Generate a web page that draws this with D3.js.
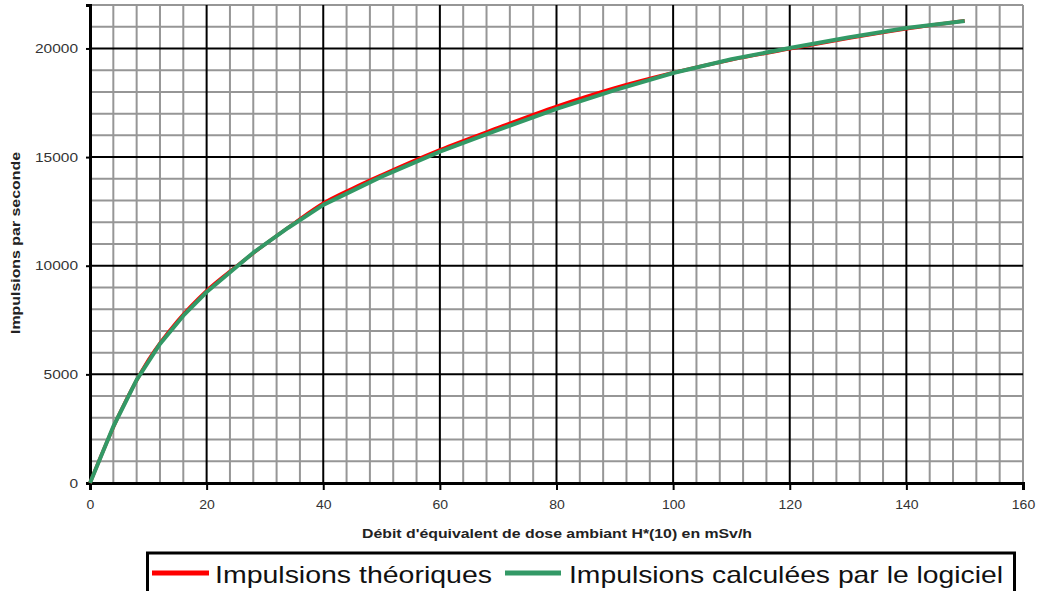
<!DOCTYPE html>
<html><head><meta charset="utf-8">
<script src="https://cdn.jsdelivr.net/npm/d3@7"></script>
<style>body{margin:0;background:#fff}svg{display:block}text{font-family:"Liberation Sans",Arial,sans-serif}</style>
</head><body><svg id="c" width="1038" height="591"></svg>
<script>
const xTicks = [0,20,40,60,80,100,120,140,160];
const yTicks = [0,5000,10000,15000,20000];
const theoX = [0,5,10,15,20,25,30,35,40,45,50,60,70,80,90,100,110,120,130,140,150];
const theoY = [0,3150,5650,7450,8850,9950,10980,11950,12870,13550,14170,15330,16350,17330,18180,18880,19480,19980,20470,20910,21280];
const calcX = [0,4,8,12,16,20,28,34,40,50,60,70,80,90,100,110,120,130,140,150];
const calcY = [0,2600,4750,6400,7700,8790,10600,11750,12800,14100,15250,16250,17220,18080,18870,19500,20020,20500,20940,21260];
const seriesNames = ["Impulsions théoriques","Impulsions calculées par le logiciel"];
const xTitle = "Débit d'équivalent de dose ambiant H*(10) en mSv/h";
const yTitle = "Impulsions par seconde";

const svg = d3.select("#c");
const x = d3.scaleLinear().domain([0,160]).range([90,1023]);
const y = d3.scaleLinear().domain([0,22000]).range([483,5]);

// minor grid
const g = svg.append("g");
g.selectAll(".mx").data(d3.range(0,161,4).filter(v=>v%20!==0||v===160)).enter().append("line")
  .attr("x1",d=>x(d)).attr("x2",d=>x(d)).attr("y1",y(0)).attr("y2",y(22000))
  .attr("stroke","#969696").attr("stroke-width",2);
g.selectAll(".my").data(d3.range(1000,22001,1000).filter(v=>v%5000!==0)).enter().append("line")
  .attr("x1",x(0)).attr("x2",x(160)).attr("y1",d=>y(d)).attr("y2",d=>y(d))
  .attr("stroke","#969696").attr("stroke-width",2);
// major grid
g.selectAll(".Mx").data(xTicks.filter(v=>v>0&&v<160)).enter().append("line")
  .attr("x1",d=>x(d)).attr("x2",d=>x(d)).attr("y1",y(0)).attr("y2",y(22000))
  .attr("stroke","#000").attr("stroke-width",2);
g.selectAll(".My").data(yTicks.filter(v=>v>0)).enter().append("line")
  .attr("x1",x(0)).attr("x2",x(160)).attr("y1",d=>y(d)).attr("y2",d=>y(d))
  .attr("stroke","#000").attr("stroke-width",2);

// axes
const ax = svg.append("g").attr("transform",`translate(0,${y(0)})`)
  .call(d3.axisBottom(x).tickValues(xTicks).tickSize(7).tickPadding(10));
ax.select(".domain").attr("stroke","#000").attr("stroke-width",3);
ax.selectAll(".tick line").attr("stroke","#000").attr("stroke-width",2);
ax.selectAll(".tick text").attr("font-size",13).attr("fill","#333").attr("font-family","Liberation Sans, Arial")
  .attr("textLength",function(d){return String(d).length*7.8;}).attr("lengthAdjust","spacingAndGlyphs");
const ay = svg.append("g").attr("transform",`translate(${x(0)},0)`)
  .call(d3.axisLeft(y).tickValues(yTicks).tickSize(4).tickPadding(8).tickFormat(d3.format("d")));
ay.select(".domain").attr("stroke","#000").attr("stroke-width",3);
ay.selectAll(".tick line").attr("stroke","#000").attr("stroke-width",2);
ay.selectAll(".tick text").attr("font-size",13).attr("fill","#333").attr("font-family","Liberation Sans, Arial")
  .attr("textLength",function(d){return String(d).length*8.6;}).attr("lengthAdjust","spacingAndGlyphs");

// lines
svg.append("path").datum(d3.zip(theoX,theoY))
  .attr("d",d3.line().x(d=>x(d[0])).y(d=>y(d[1])).curve(d3.curveMonotoneX))
  .attr("fill","none").attr("stroke","#ff0000").attr("stroke-width",3.5);
svg.append("path").datum(d3.zip(calcX,calcY))
  .attr("d",d3.line().x(d=>x(d[0])).y(d=>y(d[1])))
  .attr("fill","none").attr("stroke","#339966").attr("stroke-width",4).attr("stroke-linejoin","round");

// titles
svg.append("text").attr("x",557).attr("y",538).attr("text-anchor","middle")
  .attr("font-size",12).attr("font-weight","bold").attr("fill","#222")
  .attr("textLength",390).attr("lengthAdjust","spacingAndGlyphs").text(xTitle);
svg.append("text").attr("transform","translate(20,243) rotate(-90)").attr("text-anchor","middle")
  .attr("font-size",12).attr("font-weight","bold").attr("fill","#222")
  .attr("textLength",182).attr("lengthAdjust","spacingAndGlyphs").text(yTitle);

// legend
svg.append("rect").attr("x",147.5).attr("y",553).attr("width",867).attr("height",60)
  .attr("fill","#fff").attr("stroke","#000").attr("stroke-width",3);
const leg = [
  {lx1:152,lx2:209,tx:215,tl:277,color:"#ff0000"},
  {lx1:505,lx2:561,tx:569,tl:434,color:"#339966"}
];
leg.forEach((l,i)=>{
  svg.append("line").attr("x1",l.lx1).attr("x2",l.lx2).attr("y1",573).attr("y2",573)
    .attr("stroke",l.color).attr("stroke-width",5);
  svg.append("text").attr("x",l.tx).attr("y",583).attr("font-size",24).attr("fill","#111")
    .attr("textLength",l.tl).attr("lengthAdjust","spacingAndGlyphs").text(seriesNames[i]);
});
</script></body></html>
